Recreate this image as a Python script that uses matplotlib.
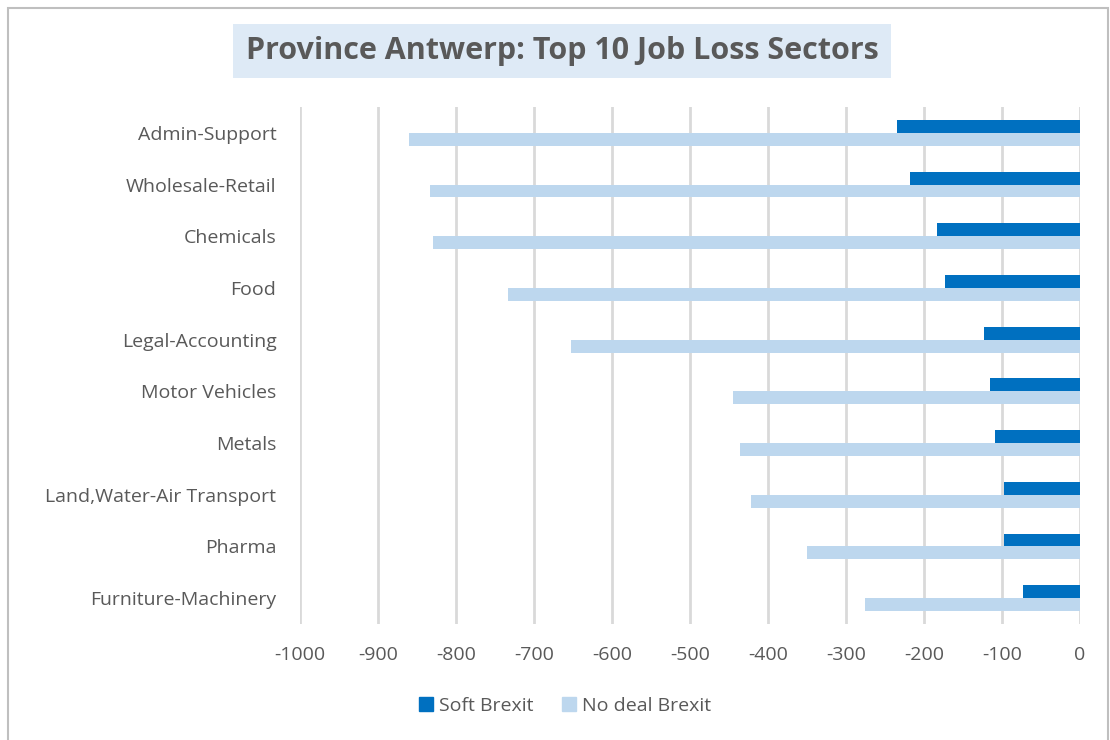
import numpy as np
import matplotlib.pyplot as plt
from matplotlib.patches import Rectangle, Patch

sectors = ["Admin-Support", "Wholesale-Retail", "Chemicals", "Food",
           "Legal-Accounting", "Motor Vehicles", "Metals",
           "Land,Water-Air Transport", "Pharma", "Furniture-Machinery"]
soft_brexit = [-235, -218, -183, -173, -123, -116, -109, -98, -97, -73]
no_deal_brexit = [-860, -833, -830, -733, -653, -445, -436, -422, -350, -276]
x_ticks = [-1000, -900, -800, -700, -600, -500, -400, -300, -200, -100, 0]

grey_text = "#595959"
dark_blue = "#0070C0"
light_blue = "#BDD7EE"

plt.rcParams["font.family"] = ["Open Sans", "DejaVu Sans"]

fig = plt.figure(figsize=(11.1, 7.4), dpi=100)
ax = fig.add_axes([300 / 1110, 1 - 624 / 740, 780 / 1110, 517 / 740])

y = np.arange(len(sectors))
h = 0.25
ax.barh(y - h / 2, soft_brexit, height=h, color=dark_blue, label="Soft Brexit", zorder=3)
ax.barh(y + h / 2, no_deal_brexit, height=h, color=light_blue, label="No deal Brexit", zorder=3)

ax.set_xlim(-1000, 0)
ax.set_ylim(len(sectors) - 0.5, -0.5)
ax.set_xticks(x_ticks)
ax.set_xticklabels([str(v) for v in x_ticks])
ax.set_yticks(y)
ax.set_yticklabels(sectors)
ax.tick_params(axis="both", length=0, labelsize=14, colors=grey_text)
ax.tick_params(axis="x", pad=16)
ax.tick_params(axis="y", pad=17)
ax.xaxis.grid(True, color="#D9D9D9", linewidth=2, zorder=0)
for s in ax.spines.values():
    s.set_visible(False)

# outer chart border
fig.patches.append(Rectangle((8 / 1110, -0.05), 1100 / 1110, 1.05 - 8 / 740,
                             transform=fig.transFigure, fill=False,
                             edgecolor="#BFBFBF", linewidth=1.5))

fig.text(562 / 1110, 1 - 51 / 740, "Province Antwerp: Top 10 Job Loss Sectors",
         ha="center", va="center", fontsize=22, fontweight="bold", color=grey_text,
         bbox=dict(boxstyle="square,pad=0.4", facecolor="#DEEAF6", edgecolor="none"))

handles = [Patch(color=dark_blue, label="Soft Brexit"),
           Patch(color=light_blue, label="No deal Brexit")]
fig.legend(handles=handles, loc="center", bbox_to_anchor=(565 / 1110, 1 - 706 / 740),
           ncol=2, frameon=False, fontsize=14, labelcolor=grey_text,
           handlelength=0.7, handleheight=0.7, handletextpad=0.3, columnspacing=1.5)

fig.savefig("out.png", dpi=100)
